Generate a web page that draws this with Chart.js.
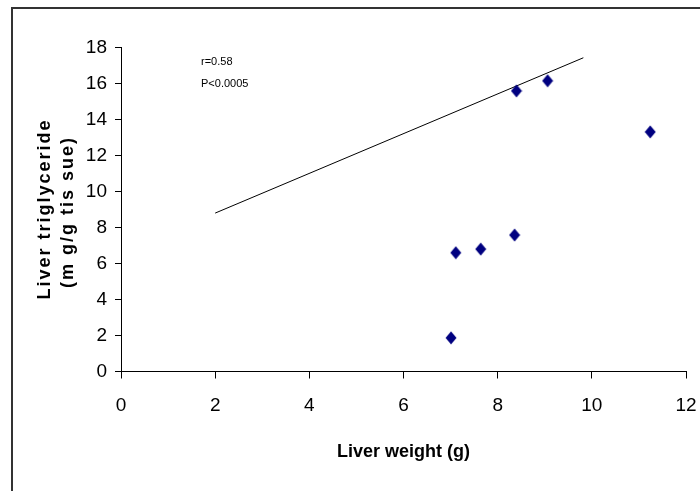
<!DOCTYPE html>
<html>
<head>
<meta charset="utf-8">
<script src="https://cdn.jsdelivr.net/npm/chart.js@4/dist/chart.umd.min.js"></script>
<style>
    html, body { margin: 0; padding: 0; background: #fff; }
    #wrap { position: relative; width: 700px; height: 491px; overflow: hidden; }
    #frame {
        position: absolute; left: 11px; top: 7px; width: 720px; height: 520px;
        border-top: 2px solid #333; border-left: 2px solid #333;
    }
    canvas { position: absolute; left: 0; top: 0; }
</style>
</head>
<body>
<div id="wrap">
    <div id="frame"></div>
    <canvas id="chart" width="700" height="491"></canvas>
</div>
<script>
// Liver weight (g) vs liver triglyceride (mg/g tissue)
const liverWeight = [7.01, 7.11, 7.64, 8.36, 8.40, 9.06, 11.24];
const liverTG = [1.87, 6.60, 6.80, 7.58, 15.59, 16.15, 13.31];

// regression line end points
const trendX = [2.0, 9.82];
const trendY = [8.80, 17.43];

const xTicks = [0, 2, 4, 6, 8, 10, 12];
const yTicks = [0, 2, 4, 6, 8, 10, 12, 14, 16, 18];

const statLines = ['r=0.58', 'P<0.0005'];
const yTitle = ['Liver triglyceride', '(m g/g tis sue)'];
const xTitle = 'Liver weight (g)';

const FONT = "'Liberation Sans', Arial, sans-serif";

// diamond marker, a bit taller than wide
function makeDiamond() {
    const c = document.createElement('canvas');
    c.width = 12; c.height = 14;
    const g = c.getContext('2d');
    g.fillStyle = '#000080';
    g.beginPath();
    g.moveTo(6, 0.5);
    g.lineTo(11.5, 7);
    g.lineTo(6, 13.5);
    g.lineTo(0.5, 7);
    g.closePath();
    g.fill();
    return c;
}

const extraText = {
    id: 'extraText',
    afterDraw(chart) {
        const ctx = chart.ctx;
        ctx.save();
        ctx.fillStyle = '#000';
        ctx.font = "11px " + FONT;
        ctx.textBaseline = 'middle';
        ctx.textAlign = 'left';
        statLines.forEach((s, i) => ctx.fillText(s, 201, 62 + i * 22));

        // y title, letter-spaced, two lines
        ctx.font = "bold 18px " + FONT;
        ctx.textAlign = 'center';
        if ('letterSpacing' in ctx) ctx.letterSpacing = '2px';
        const xs = [45, 68];
        const ys = [210, 213];
        yTitle.forEach((t, i) => {
            ctx.save();
            ctx.translate(xs[i], ys[i]);
            ctx.rotate(-Math.PI / 2);
            ctx.fillText(t, 1, 0);
            ctx.restore();
        });
        ctx.restore();
    }
};

new Chart(document.getElementById('chart'), {
    data: {
        datasets: [
            {
                type: 'scatter',
                data: liverWeight.map((x, i) => ({ x, y: liverTG[i] })),
                pointStyle: makeDiamond(),
                pointRadius: 6,
                pointHoverRadius: 6,
                backgroundColor: '#000080',
                borderColor: '#000080',
            },
            {
                type: 'line',
                data: trendX.map((x, i) => ({ x, y: trendY[i] })),
                borderColor: '#000',
                borderWidth: 1,
                pointRadius: 0,
                fill: false,
            }
        ]
    },
    options: {
        responsive: false,
        animation: false,
        events: [],
        layout: { padding: { top: 47.5, right: 14, bottom: 0, left: 0 } },
        plugins: { legend: { display: false }, tooltip: { enabled: false } },
        scales: {
            x: {
                type: 'linear',
                min: 0, max: 12,
                afterBuildTicks: (s) => { s.ticks = xTicks.map(v => ({ value: v })); },
                afterFit: (s) => { s.height = 491 - 371.5; s.paddingLeft = 0; s.paddingRight = 0; },
                grid: { drawOnChartArea: false, drawTicks: true, tickLength: 7, color: '#000' },
                border: { color: '#000', width: 1 },
                ticks: { color: '#000', padding: 16, font: { family: FONT, size: 19 } },
                title: {
                    display: true, text: xTitle, color: '#000',
                    font: { family: FONT, size: 18, weight: 'bold' },
                    padding: { top: 0, bottom: 28 }
                }
            },
            y: {
                type: 'linear',
                min: 0, max: 18,
                afterBuildTicks: (s) => { s.ticks = yTicks.map(v => ({ value: v })); },
                afterFit: (s) => { s.width = 121; s.paddingTop = 0; s.paddingBottom = 0; },
                grid: { drawOnChartArea: false, drawTicks: true, tickLength: 6, color: '#000' },
                border: { color: '#000', width: 1 },
                ticks: { color: '#000', padding: 8, font: { family: FONT, size: 19 } }
            }
        }
    },
    plugins: [extraText]
});
</script>
</body>
</html>
